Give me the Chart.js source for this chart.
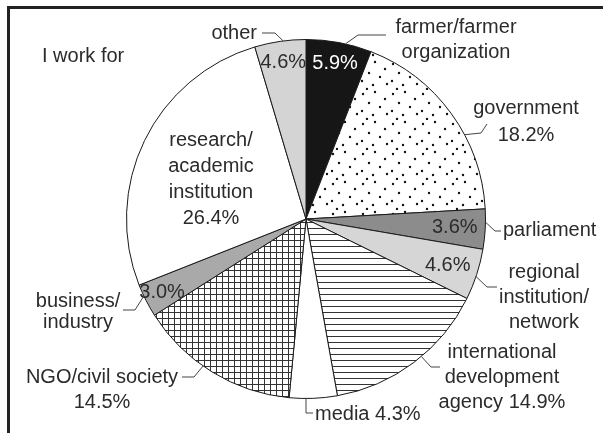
<!DOCTYPE html>
<html>
<head>
<meta charset="utf-8">
<script src="https://cdn.jsdelivr.net/npm/chart.js@4"></script>
<style>
  html, body { margin: 0; padding: 0; background: #fff; }
  #wrap { position: relative; width: 603px; height: 433px; }
  #frame { position: absolute; left: 7px; top: 6px; width: 600px; height: 440px;
           border-top: 3px solid #222; border-left: 3px solid #222; }
  canvas { position: absolute; left: 0; top: 0; }
</style>
</head>
<body>
<div id="wrap">
  <div id="frame"></div>
  <canvas id="pie" width="603" height="433"></canvas>
</div>
<script>
// data, clockwise from 12 o'clock
const categories = ['farmer/farmer organization', 'government', 'parliament',
    'regional institution/network', 'international development agency', 'media',
    'NGO/civil society', 'business/industry', 'research/academic institution', 'other'];
const shares = [5.9, 18.2, 3.6, 4.6, 14.9, 4.3, 14.5, 3.0, 26.4, 4.6];
const pctLabels = ['5.9%', '18.2%', '3.6%', '4.6%', '14.9%', '4.3%', '14.5%', '3.0%', '26.4%', '4.6%'];

const FONT = '20px "Liberation Sans", Arial, sans-serif';
const INK = '#2b2b2b';

function makeTile(w, h, draw) {
    const c = document.createElement('canvas');
    c.width = w; c.height = h;
    const g = c.getContext('2d');
    g.fillStyle = '#fff';
    g.fillRect(0, 0, w, h);
    draw(g);
    return g.createPattern(c, 'repeat');
}

const ctx = document.getElementById('pie').getContext('2d');

const dots = makeTile(30, 30, g => {
    g.fillStyle = '#111';
    [[3, 4], [15, 2], [25, 9], [9, 13], [20, 17], [2, 21], [13, 25], [27, 24], [7, 29]]
        .forEach(([x, y]) => { g.beginPath(); g.arc(x, y, 1.2, 0, Math.PI * 2); g.fill(); });
});
const hlines = makeTile(6, 6, g => {
    g.fillStyle = '#333';
    g.fillRect(0, 0, 6, 1);
});
const grid = makeTile(6, 6, g => {
    g.fillStyle = '#333';
    g.fillRect(0, 0, 6, 1);
    g.fillRect(0, 0, 1, 6);
});

const fills = ['#161616', dots, '#8c8c8c', '#d6d6d6', hlines, '#ffffff', grid, '#a9a9a9', '#ffffff', '#d4d4d4'];

// text placement (layout only)
const inside = [
    { i: 0, r: 0.88, color: '#fff' },
    { i: 9, r: 0.88 },
    { i: 2, r: 0.83 },
    { i: 3, r: 0.83 },
    { i: 7, r: 0.9 }
];
const outside = [
    { lines: ['farmer/farmer', 'organization'], x: 456, y: 27, align: 'center', ang: 12.7, leader: [[358, 35], [386, 35]] },
    { lines: ['government', '18.2%'], x: 526, y: 108, gap: 27, align: 'center', ang: 62, leader: [[481, 133], [487, 124]] },
    { lines: ['parliament'], x: 503, y: 230, align: 'left', ang: 91, leader: [[495, 231], [501, 231]] },
    { lines: ['regional', 'institution/', 'network'], x: 544, y: 272, align: 'center', ang: 108.7, leader: [[487, 287], [497, 287]] },
    { lines: ['international', 'development', 'agency 14.9%'], x: 502, y: 352, align: 'center', ang: 140, leader: [[431, 367], [440, 367]] },
    { lines: ['media 4.3%'], x: 315, y: 414, align: 'left', ang: 180, leader: [[306, 413], [313, 413]] },
    { lines: ['NGO/civil society', '14.5%'], x: 102, y: 377, align: 'center', ang: 215, leader: [[194, 377], [182, 377]] },
    { lines: ['business/', 'industry'], x: 78, y: 301, gap: 21, align: 'center', ang: 244.6, leader: [[135, 310], [123, 310]] },
    { lines: ['other'], x: 257, y: 33, align: 'right', ang: 352.7, leader: [[275, 33], [262, 33]] },
    { lines: ['research/', 'academic', 'institution', '26.4%'], x: 211, y: 140, gap: 26, align: 'center' },
    { lines: ['I work for'], x: 42, y: 56, align: 'left' }
];

const pieText = {
    id: 'pieText',
    afterDatasetsDraw(chart) {
        const c = chart.ctx;
        const arcs = chart.getDatasetMeta(0).data;
        const { x: cx, y: cy, outerRadius: R } = arcs[0].getProps(['x', 'y', 'outerRadius'], true);
        c.save();
        c.font = FONT;
        c.textBaseline = 'middle';

        inside.forEach(o => {
            const a = arcs[o.i];
            const mid = (a.startAngle + a.endAngle) / 2;
            c.fillStyle = o.color || INK;
            c.textAlign = 'center';
            c.fillText(pctLabels[o.i], cx + Math.cos(mid) * R * o.r, cy + Math.sin(mid) * R * o.r);
        });

        outside.forEach(o => {
            if (o.leader) {
                const t = (o.ang - 90) * Math.PI / 180;
                c.strokeStyle = '#444';
                c.lineWidth = 1;
                c.beginPath();
                c.moveTo(cx + Math.cos(t) * R, cy + Math.sin(t) * R);
                o.leader.forEach(([x, y]) => c.lineTo(x, y));
                c.stroke();
            }
            c.fillStyle = INK;
            c.textAlign = o.align;
            o.lines.forEach((s, k) => c.fillText(s, o.x, o.y + k * (o.gap || 25)));
        });
        c.restore();
    }
};

new Chart(ctx, {
    type: 'pie',
    data: {
        labels: categories,
        datasets: [{
            data: shares,
            backgroundColor: fills,
            borderColor: '#1a1a1a',
            borderWidth: 1
        }]
    },
    options: {
        responsive: false,
        animation: false,
        devicePixelRatio: 1,
        layout: { padding: { left: 126, right: 117, top: 39, bottom: 34 } },
        plugins: {
            legend: { display: false },
            tooltip: { enabled: false }
        }
    },
    plugins: [pieText]
});
</script>
</body>
</html>
